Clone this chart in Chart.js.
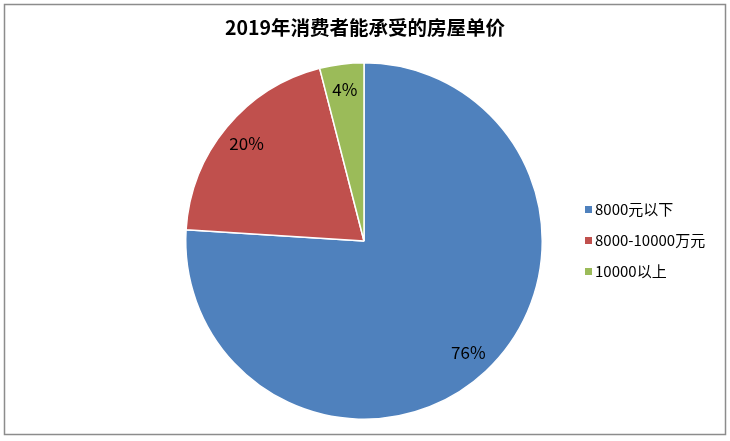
<!DOCTYPE html>
<html>
<head>
<meta charset="utf-8">
<script src="https://cdn.jsdelivr.net/npm/chart.js@4"></script>
<style>
    html, body { margin: 0; padding: 0; background: #fff; }
    #wrap { position: relative; width: 730px; height: 441px; }
</style>
</head>
<body>
<div id="wrap"><canvas id="priceChart" width="730" height="441"></canvas></div>
<script>
const chartTitle = '2019年消费者能承受的房屋单价';
const categories = ['8000元以下', '8000-10000万元', '10000以上'];
const shares = [76, 20, 4];
const sliceColors = ['#4F81BD', '#C0504D', '#9BBB59'];

// frame, title, percentage labels and legend are drawn by hand
const decorPlugin = {
    id: 'decor',
    beforeDraw(chart) {
        const ctx = chart.ctx;
        ctx.save();
        ctx.fillStyle = '#fff';
        ctx.fillRect(0, 0, chart.width, chart.height);
        ctx.strokeStyle = '#8c8c8c';
        ctx.lineWidth = 1.5;
        ctx.strokeRect(4.5, 4.5, 721, 430);
        ctx.restore();
    },
    afterDraw(chart) {
        const ctx = chart.ctx;
        ctx.save();

        ctx.fillStyle = '#000';
        ctx.font = 'bold 19.5px "Noto Sans CJK SC", "DejaVu Sans", sans-serif';
        ctx.textAlign = 'center';
        ctx.textBaseline = 'middle';
        ctx.fillText(chartTitle, 365, 28);

        const meta = chart.getDatasetMeta(0);
        ctx.font = '17px "Noto Sans CJK SC", "Liberation Sans", sans-serif';
        meta.data.forEach((arc, i) => {
            const mid = (arc.startAngle + arc.endAngle) / 2;
            const r = arc.outerRadius * 0.855;
            ctx.fillText(shares[i] + '%', arc.x + Math.cos(mid) * r, arc.y + Math.sin(mid) * r);
        });

        ctx.textAlign = 'left';
        ctx.font = '15px "Noto Sans CJK SC", "Liberation Sans", sans-serif';
        categories.forEach((name, i) => {
            const y = 209 + i * 31;
            ctx.fillStyle = sliceColors[i];
            ctx.fillRect(585, y - 3, 7, 7);
            ctx.fillStyle = '#000';
            ctx.fillText(name, 595, y);
        });
        ctx.restore();
    }
};

new Chart(document.getElementById('priceChart'), {
    type: 'pie',
    data: {
        labels: categories,
        datasets: [{
            data: shares,
            backgroundColor: sliceColors,
            borderColor: '#fff',
            borderWidth: 1.5
        }]
    },
    options: {
        responsive: false,
        animation: false,
        layout: { padding: { top: 62, bottom: 21, left: 185, right: 187 } },
        plugins: {
            legend: { display: false },
            title: { display: false },
            tooltip: { enabled: false }
        }
    },
    plugins: [decorPlugin]
});
</script>
</body>
</html>
